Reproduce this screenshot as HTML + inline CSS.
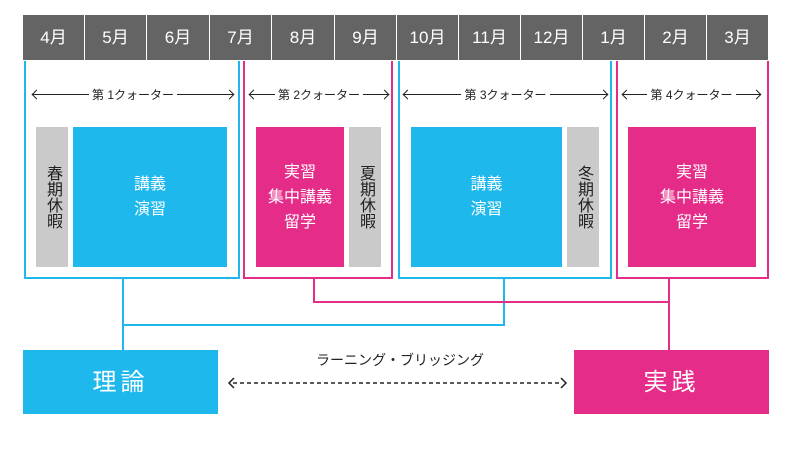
<!DOCTYPE html>
<html><head><meta charset="utf-8"><style>
body{margin:0;width:800px;height:461px;background:#fff;position:relative;overflow:hidden;font-family:"Liberation Sans","Noto Sans CJK JP",sans-serif}
.a{position:absolute;box-sizing:border-box}
.m{position:absolute;top:15px;height:45px;background:#646464;color:#fff;font-size:17px;line-height:45px;text-align:center}
.fb{border:2px solid #1eb8ec;border-top:none}
.fp{border:2px solid #e52c89;border-top:none}
.bl{background:#1eb8ec}.pk{background:#e52c89}.gr{background:#cacaca}
.c{display:flex;align-items:center;justify-content:center;text-align:center;color:#fff;font-size:16px;line-height:25px}
.v{color:#222;font-size:16px;line-height:20px;writing-mode:vertical-rl;display:flex;align-items:center;justify-content:center}
.q{position:absolute;top:85px;height:18px;font-size:12px;color:#222;display:flex;align-items:center;white-space:nowrap}
.q i{flex:1;height:1px;background:#222;position:relative}
.q i.l:before,.q i.r:after{content:"";position:absolute;top:-3px;width:6px;height:6px;border:solid #222;border-width:0 0 1px 1px}
.q i.l:before{left:0;transform:rotate(45deg)}
.q i.r:after{right:0;transform:rotate(-135deg)}
</style></head><body>
<div class="m" style="left:23px;width:61px">4月</div>
<div class="m" style="left:85px;width:61px">5月</div>
<div class="m" style="left:147px;width:62px">6月</div>
<div class="m" style="left:210px;width:61px">7月</div>
<div class="m" style="left:272px;width:62px">8月</div>
<div class="m" style="left:335px;width:61px">9月</div>
<div class="m" style="left:397px;width:61px">10月</div>
<div class="m" style="left:459px;width:61px">11月</div>
<div class="m" style="left:521px;width:61px">12月</div>
<div class="m" style="left:583px;width:61px">1月</div>
<div class="m" style="left:645px;width:61px">2月</div>
<div class="m" style="left:707px;width:61px">3月</div>

<div class="a fb" style="left:24px;top:61px;width:216px;height:218px"></div>
<div class="a fp" style="left:243px;top:61px;width:150px;height:218px"></div>
<div class="a fb" style="left:398px;top:61px;width:214px;height:218px"></div>
<div class="a fp" style="left:616px;top:61px;width:153px;height:218px"></div>

<div class="q" style="left:33px;width:200px"><i class="l"></i>&nbsp;第 1クォーター&nbsp;<i class="r"></i></div>
<div class="q" style="left:250px;width:138px"><i class="l"></i>&nbsp;第 2クォーター&nbsp;<i class="r"></i></div>
<div class="q" style="left:404px;width:203px"><i class="l"></i>&nbsp;第 3クォーター&nbsp;<i class="r"></i></div>
<div class="q" style="left:623px;width:137px"><i class="l"></i>&nbsp;第 4クォーター&nbsp;<i class="r"></i></div>

<div class="a gr v" style="left:36px;top:127px;width:32px;height:140px">春期休暇</div>
<div class="a bl c" style="left:73px;top:127px;width:154px;height:140px">講義<br>演習</div>
<div class="a pk c" style="left:256px;top:127px;width:88px;height:140px">実習<br>集中講義<br>留学</div>
<div class="a gr v" style="left:349px;top:127px;width:32px;height:140px">夏期休暇</div>
<div class="a bl c" style="left:411px;top:127px;width:151px;height:140px">講義<br>演習</div>
<div class="a gr v" style="left:567px;top:127px;width:32px;height:140px">冬期休暇</div>
<div class="a pk c" style="left:628px;top:127px;width:128px;height:140px">実習<br>集中講義<br>留学</div>

<div class="a bl" style="left:122px;top:279px;width:2px;height:72px"></div>
<div class="a bl" style="left:122px;top:324px;width:383px;height:2px"></div>
<div class="a bl" style="left:503px;top:279px;width:2px;height:47px"></div>
<div class="a pk" style="left:313px;top:279px;width:2px;height:24px"></div>
<div class="a pk" style="left:313px;top:301px;width:357px;height:2px"></div>
<div class="a pk" style="left:668px;top:279px;width:2px;height:72px"></div>

<div class="a bl c" style="left:23px;top:350px;width:195px;height:64px;font-size:24px;letter-spacing:4px">理論</div>
<div class="a pk c" style="left:574px;top:350px;width:195px;height:64px;font-size:24px;letter-spacing:4px">実践</div>
<div class="a" style="left:290px;top:350px;width:220px;text-align:center;font-size:14px;color:#222">ラーニング・ブリッジング</div>
<svg class="a" style="left:225px;top:376px" width="345" height="14"><line x1="8" y1="7" x2="337" y2="7" stroke="#222" stroke-width="1.5" stroke-dasharray="4,3"/><path d="M9 2 L4 7 L9 12" fill="none" stroke="#222" stroke-width="1.5"/><path d="M336 2 L341 7 L336 12" fill="none" stroke="#222" stroke-width="1.5"/></svg>
</body></html>
